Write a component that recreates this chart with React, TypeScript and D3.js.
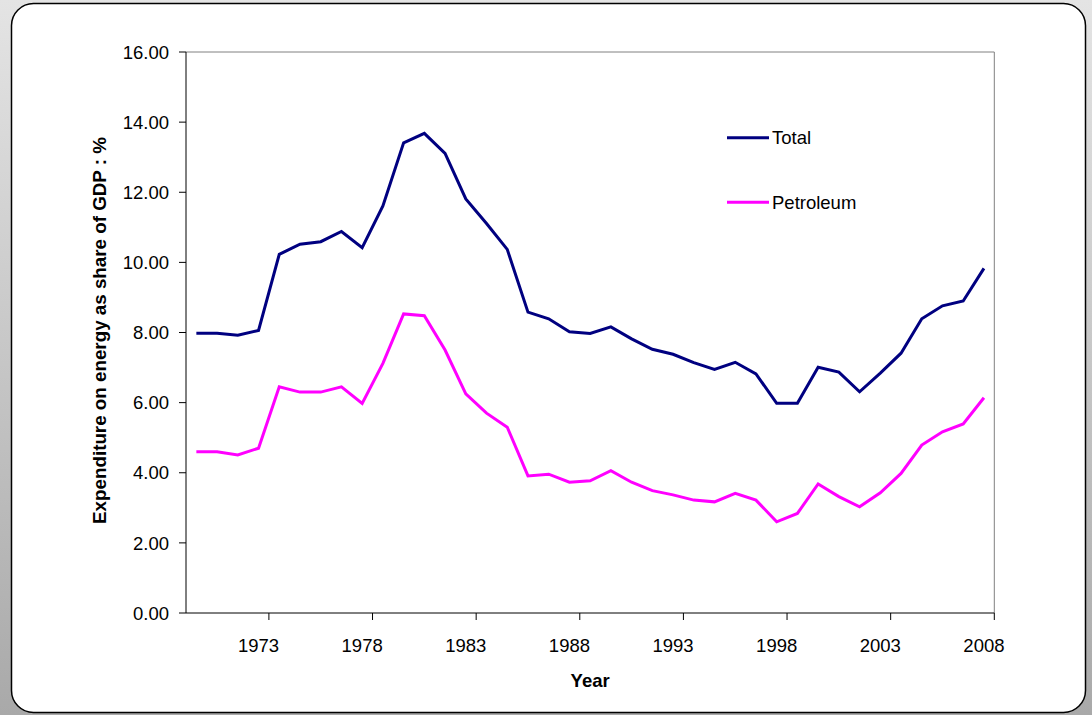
import React from "react";
import * as d3 from "d3";

const years = d3.range(1970, 2009);
const labelYears = [1973, 1978, 1983, 1988, 1993, 1998, 2003, 2008];
const yTicks = [0, 2, 4, 6, 8, 10, 12, 14, 16];

// one value per year 1970..2008
const total = [
  7.98, 7.98, 7.92, 8.06, 10.23, 10.52, 10.59, 10.88, 10.42, 11.61,
  13.41, 13.68, 13.11, 11.81, 11.11, 10.37, 8.58, 8.39, 8.02, 7.97,
  8.16, 7.82, 7.52, 7.38, 7.14, 6.95, 7.15, 6.82, 5.98, 5.98,
  7.01, 6.87, 6.31, 6.84, 7.41, 8.39, 8.76, 8.9, 9.83,
];
const petroleum = [
  4.6, 4.6, 4.51, 4.7, 6.45, 6.3, 6.3, 6.45, 5.98, 7.12,
  8.53, 8.48, 7.5, 6.25, 5.7, 5.3, 3.91, 3.96, 3.73, 3.77,
  4.06, 3.73, 3.49, 3.37, 3.22, 3.17, 3.41, 3.22, 2.6, 2.84,
  3.68, 3.32, 3.03, 3.43, 3.98, 4.79, 5.17, 5.39, 6.14,
];

const series = [
  { name: "Total", values: total, color: "#000080" },
  { name: "Petroleum", values: petroleum, color: "#FF00FF" },
];

const W = 1092;
const H = 715;
const plot = { left: 186, right: 994.3, top: 52, bottom: 613 };
const font = "'Liberation Sans', Arial, sans-serif";
const fs = 18.5;

export default function App() {
  const x = d3
    .scaleBand<number>()
    .domain(years)
    .range([plot.left, plot.right])
    .paddingInner(0)
    .paddingOuter(0);
  const bw = x.bandwidth();
  const y = d3.scaleLinear().domain([0, 16]).range([plot.bottom, plot.top]);

  const line = d3
    .line<number>()
    .x((_, i) => (x(years[i]) as number) + bw / 2)
    .y((d) => y(d));

  return (
    <div style={{ position: "absolute", left: 0, top: 0 }}>
      <svg width={W} height={H} style={{ display: "block" }} fontFamily={font}>
        <defs>
          <linearGradient id="bg" x1="0" y1="0" x2="0" y2="1">
            <stop offset="0" stopColor="#e4e4e4" />
            <stop offset="1" stopColor="#a9a9a9" />
          </linearGradient>
        </defs>
        <rect x={0} y={0} width={W} height={H} fill="url(#bg)" />
        <rect
          x={11.5}
          y={3.5}
          width={1074}
          height={709}
          rx={22}
          ry={22}
          fill="#ffffff"
          stroke="#000000"
          strokeWidth={1.5}
        />

        {/* frame top/right */}
        <path
          d={`M${plot.left},${plot.top}H${plot.right}V${plot.bottom}`}
          fill="none"
          stroke="#808080"
          strokeWidth={1}
        />

        {/* y axis */}
        <line x1={plot.left} x2={plot.left} y1={plot.top} y2={plot.bottom} stroke="#000" strokeWidth={1} />
        {yTicks.map((t) => (
          <g key={t}>
            <line x1={plot.left - 7} x2={plot.left} y1={y(t)} y2={y(t)} stroke="#000" strokeWidth={1} />
            <text x={169} y={y(t)} dy="0.36em" textAnchor="end" fontSize={fs} fill="#000">
              {t.toFixed(2)}
            </text>
          </g>
        ))}

        {/* x axis */}
        <line x1={plot.left} x2={plot.right} y1={plot.bottom} y2={plot.bottom} stroke="#000" strokeWidth={1} />
        {labelYears.map((yr) => {
          const x0 = x(yr) as number;
          return (
            <g key={yr}>
              <line x1={x0 + bw} x2={x0 + bw} y1={plot.bottom} y2={plot.bottom + 7} stroke="#000" strokeWidth={1} />
              <text x={x0 + bw / 2} y={652} textAnchor="middle" fontSize={fs} fill="#000">
                {yr}
              </text>
            </g>
          );
        })}

        {/* lines */}
        {series.map((s) => (
          <path
            key={s.name}
            d={line(s.values) || ""}
            fill="none"
            stroke={s.color}
            strokeWidth={3}
            strokeLinejoin="miter"
          />
        ))}

        {/* legend */}
        {series.map((s, i) => {
          const ly = 137.7 + i * 64.6;
          return (
            <g key={s.name}>
              <line x1={727} x2={769} y1={ly} y2={ly} stroke={s.color} strokeWidth={3} />
              <text x={772} y={ly} dy="0.36em" fontSize={fs} fill="#000">
                {s.name}
              </text>
            </g>
          );
        })}

        {/* axis titles */}
        <text
          x={(plot.left + plot.right) / 2}
          y={687}
          textAnchor="middle"
          fontSize={fs}
          fontWeight="bold"
          fill="#000"
        >
          Year
        </text>
        <text
          transform={`translate(105.5,${(plot.top + plot.bottom) / 2 - 2}) rotate(-90)`}
          textAnchor="middle"
          fontSize={18.8}
          fontWeight="bold"
          fill="#000"
        >
          Expenditure on energy as share of GDP : %
        </text>
      </svg>
    </div>
  );
}
